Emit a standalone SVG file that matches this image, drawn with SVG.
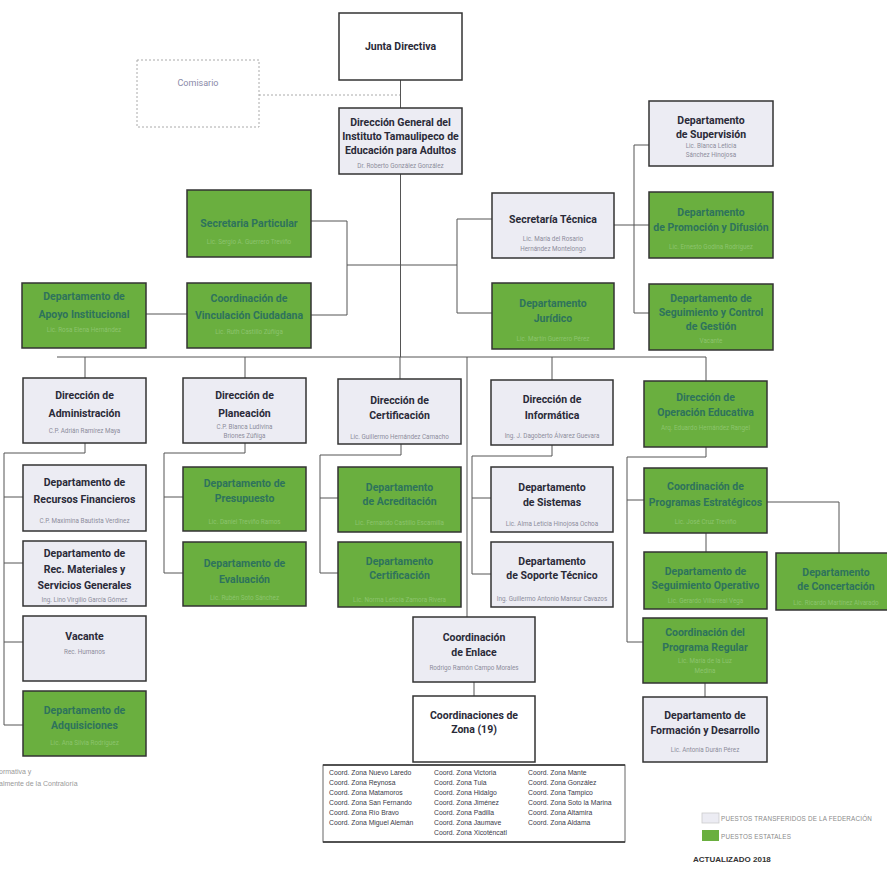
<svg xmlns="http://www.w3.org/2000/svg" width="887" height="873" viewBox="0 0 887 873">
<style>
.box{stroke:#333;stroke-width:1.5}
.lav{fill:#ececf3}
.grn{fill:#6aaf3f}
.wht{fill:#fff}
.t{font-family:Roboto,"Liberation Sans",sans-serif;font-weight:700;font-size:10.5px;text-anchor:middle}
.tl{fill:#2a2a38}
.tg{fill:#2e735c}
.s{font-family:Roboto,"Liberation Sans",sans-serif;font-size:6.3px;text-anchor:middle}
.sl{fill:#8c8c9c}
.sg{fill:#8cc46e}
.conn{fill:none;stroke:#555;stroke-width:1}
.z{font-family:"Liberation Sans",Arial,sans-serif;font-size:6.8px;fill:#3a3a48}
.lg{font-family:"Liberation Sans",Arial,sans-serif;font-size:6.3px;fill:#8a8a8a;letter-spacing:0.2px}
</style>
<rect width="887" height="873" fill="#fff"/>

<g id="connectors">
<path class="conn" d="M400.5,80 V357"/>
<path d="M259,95 H400" fill="none" stroke="#aaa" stroke-width="1" stroke-dasharray="2,2"/>
<path class="conn" d="M311,221 H347 V315 H311 M347,265 H457 M457,219 V313 M457,219 H492 M457,313 H492"/>
<path class="conn" d="M146,314 H187"/>
<path class="conn" d="M614,225 H649 M634,145 V313 M634,145 H649 M634,313 H649"/>
<path class="conn" d="M57,357 H706 M85,357 V378 M245,357 V378 M400,357 V379 M467,357 V617 M552,357 V380 M706,357 V381"/>
<path class="conn" d="M85,443 V453 H4 V725 M4,497 H23 M4,563 H23 M4,642 H23 M4,725 H23"/>
<path class="conn" d="M245,443 V453 H164 V573 M164,497 H183 M164,573 H183"/>
<path class="conn" d="M401,444 V455 H320 V573 M320,498 H338 M320,573 H338"/>
<path class="conn" d="M552,445 V456 H472 V574 M472,498 H491 M472,574 H491"/>
<path class="conn" d="M474,682 V696"/>
<path class="conn" d="M706,447 V457 H627 V642 M627,500 H644 M627,642 H643"/>
<path class="conn" d="M706,533 V552 M767,502 H839 V553"/>
<path class="conn" d="M705,683 V697"/>
</g>

<g id="junta"><rect class="box wht" x="339" y="13" width="123" height="67"/><text class="t tl" x="400.5" y="50">Junta Directiva</text></g>
<g id="comisario"><rect x="137" y="60" width="122" height="67" fill="#fff" stroke="#aaa" stroke-width="1" stroke-dasharray="2,2"/><text x="198" y="86" font-family="Roboto,'Liberation Sans',sans-serif" font-size="9px" fill="#8a8aa8" text-anchor="middle">Comisario</text></g>

<g id="dgeneral"><rect class="box lav" x="339" y="108" width="123" height="66"/>
<text class="t tl" x="400.5" y="126">Dirección General del</text>
<text class="t tl" x="400.5" y="140">Instituto Tamaulipeco de</text>
<text class="t tl" x="400.5" y="154">Educación para Adultos</text>
<text class="s sl" x="400.5" y="168">Dr. Roberto González González</text></g>

<g id="sparticular"><rect class="box grn" x="187" y="190" width="124" height="67"/>
<text class="t tg" x="249" y="227">Secretaria Particular</text>
<text class="s sg" x="249" y="244">Lic. Sergio A. Guerrero Treviño</text></g>

<g id="vinculacion"><rect class="box grn" x="187" y="283" width="124" height="65"/>
<text class="t tg" x="249" y="302">Coordinación de</text>
<text class="t tg" x="249" y="319">Vinculación Ciudadana</text>
<text class="s sg" x="249" y="334">Lic. Ruth Castillo Zúñiga</text></g>

<g id="stecnica"><rect class="box lav" x="492" y="193" width="122" height="65"/>
<text class="t tl" x="553" y="223">Secretaría Técnica</text>
<text class="s sl" x="553" y="241">Lic. María del Rosario</text>
<text class="s sl" x="553" y="251">Hernández Montelongo</text></g>

<g id="juridico"><rect class="box grn" x="492" y="283" width="122" height="66"/>
<text class="t tg" x="553" y="307">Departamento</text>
<text class="t tg" x="553" y="322">Jurídico</text>
<text class="s sg" x="553" y="341">Lic. Martín Guerrero Pérez</text></g>

<g id="supervision"><rect class="box lav" x="649" y="101" width="124" height="65"/>
<text class="t tl" x="711" y="124">Departamento</text>
<text class="t tl" x="711" y="138">de Supervisión</text>
<text class="s sl" x="711" y="148">Lic. Blanca Leticia</text>
<text class="s sl" x="711" y="157">Sánchez Hinojosa</text></g>

<g id="promocion"><rect class="box grn" x="649" y="192" width="124" height="66"/>
<text class="t tg" x="711" y="216">Departamento</text>
<text class="t tg" x="711" y="231">de Promoción y Difusión</text>
<text class="s sg" x="711" y="249">Lic. Ernesto Godina Rodríguez</text></g>

<g id="segcontrol"><rect class="box grn" x="649" y="284" width="124" height="66"/>
<text class="t tg" x="711" y="302">Departamento de</text>
<text class="t tg" x="711" y="316">Seguimiento y Control</text>
<text class="t tg" x="711" y="330">de Gestión</text>
<text class="s sg" x="711" y="343">Vacante</text></g>

<g id="apoyo"><rect class="box grn" x="22" y="283" width="124" height="65"/>
<text class="t tg" x="84" y="300">Departamento de</text>
<text class="t tg" x="84" y="318">Apoyo Institucional</text>
<text class="s sg" x="84" y="332">Lic. Rosa Elena Hernández</text></g>

<g id="administracion"><rect class="box lav" x="23" y="378" width="123" height="65"/>
<text class="t tl" x="84.5" y="399">Dirección de</text>
<text class="t tl" x="84.5" y="417">Administración</text>
<text class="s sl" x="84.5" y="433">C.P. Adrián Ramírez Maya</text></g>

<g id="planeacion"><rect class="box lav" x="183" y="378" width="123" height="65"/>
<text class="t tl" x="244.5" y="399">Dirección de</text>
<text class="t tl" x="244.5" y="417">Planeación</text>
<text class="s sl" x="244.5" y="429">C.P. Blanca Ludivina</text>
<text class="s sl" x="244.5" y="438">Briones Zúñiga</text></g>

<g id="certificacion"><rect class="box lav" x="338" y="379" width="123" height="65"/>
<text class="t tl" x="399.5" y="404">Dirección de</text>
<text class="t tl" x="399.5" y="419">Certificación</text>
<text class="s sl" x="399.5" y="439">Lic. Guillermo Hernández Camacho</text></g>

<g id="informatica"><rect class="box lav" x="491" y="380" width="122" height="65"/>
<text class="t tl" x="552" y="403">Dirección de</text>
<text class="t tl" x="552" y="419">Informática</text>
<text class="s sl" x="552" y="438">Ing. J. Dagoberto Álvarez Guevara</text></g>

<g id="opeducativa"><rect class="box grn" x="644" y="381" width="123" height="66"/>
<text class="t tg" x="705.5" y="401">Dirección de</text>
<text class="t tg" x="705.5" y="416">Operación Educativa</text>
<text class="s sg" x="705.5" y="430">Arq. Eduardo Hernández Rangel</text></g>

<g id="recfin"><rect class="box lav" x="23" y="465" width="123" height="66"/>
<text class="t tl" x="84.5" y="486">Departamento de</text>
<text class="t tl" x="84.5" y="503">Recursos Financieros</text>
<text class="s sl" x="84.5" y="523">C.P. Maximina Bautista Verdinez</text></g>

<g id="recmat"><rect class="box lav" x="23" y="541" width="123" height="65"/>
<text class="t tl" x="84.5" y="557">Departamento de</text>
<text class="t tl" x="84.5" y="573">Rec. Materiales y</text>
<text class="t tl" x="84.5" y="589">Servicios Generales</text>
<text class="s sl" x="84.5" y="602">Ing. Lino Virgilio García Gómez</text></g>

<g id="vacante"><rect class="box lav" x="23" y="616" width="123" height="65"/>
<text class="t tl" x="84.5" y="640">Vacante</text>
<text class="s sl" x="84.5" y="654">Rec. Humanos</text></g>

<g id="adquisiciones"><rect class="box grn" x="23" y="691" width="123" height="65"/>
<text class="t tg" x="84.5" y="714">Departamento de</text>
<text class="t tg" x="84.5" y="729">Adquisiciones</text>
<text class="s sg" x="84.5" y="745">Lic. Ana Silvia Rodríguez</text></g>

<g id="presupuesto"><rect class="box grn" x="183" y="467" width="123" height="64"/>
<text class="t tg" x="244.5" y="487">Departamento de</text>
<text class="t tg" x="244.5" y="502">Presupuesto</text>
<text class="s sg" x="244.5" y="524">Lic. Daniel Treviño Ramos</text></g>

<g id="evaluacion"><rect class="box grn" x="183" y="542" width="123" height="64"/>
<text class="t tg" x="244.5" y="567">Departamento de</text>
<text class="t tg" x="244.5" y="583">Evaluación</text>
<text class="s sg" x="244.5" y="600">Lic. Rubén Soto Sánchez</text></g>

<g id="acreditacion"><rect class="box grn" x="338" y="467" width="123" height="65"/>
<text class="t tg" x="399.5" y="491">Departamento</text>
<text class="t tg" x="399.5" y="505">de Acreditación</text>
<text class="s sg" x="399.5" y="525">Lic. Fernando Castillo Escamilla</text></g>

<g id="dcertificacion"><rect class="box grn" x="338" y="542" width="123" height="65"/>
<text class="t tg" x="399.5" y="565">Departamento</text>
<text class="t tg" x="399.5" y="579">Certificación</text>
<text class="s sg" x="399.5" y="602">Lic. Norma Leticia Zamora Rivera</text></g>

<g id="sistemas"><rect class="box lav" x="491" y="467" width="122" height="65"/>
<text class="t tl" x="552" y="491">Departamento</text>
<text class="t tl" x="552" y="506">de Sistemas</text>
<text class="s sl" x="552" y="526">Lic. Alma Leticia Hinojosa Ochoa</text></g>

<g id="soporte"><rect class="box lav" x="491" y="542" width="122" height="65"/>
<text class="t tl" x="552" y="565">Departamento</text>
<text class="t tl" x="552" y="579">de Soporte Técnico</text>
<text class="s sl" x="552" y="601">Ing. Guillermo Antonio Mansur Cavazos</text></g>

<g id="progestrat"><rect class="box grn" x="644" y="468" width="123" height="65"/>
<text class="t tg" x="705.5" y="490">Coordinación de</text>
<text class="t tg" x="705.5" y="506">Programas Estratégicos</text>
<text class="s sg" x="705.5" y="524">Lic. José Cruz Treviño</text></g>

<g id="segoperativo"><rect class="box grn" x="644" y="552" width="123" height="57"/>
<text class="t tg" x="705.5" y="575">Departamento de</text>
<text class="t tg" x="705.5" y="589">Seguimiento Operativo</text>
<text class="s sg" x="705.5" y="603">Lic. Gerardo Villarreal Vega</text></g>

<g id="concertacion"><rect class="box grn" x="776" y="553" width="124" height="57"/>
<text class="t tg" x="836" y="576">Departamento</text>
<text class="t tg" x="836" y="590">de Concertación</text>
<text class="s sg" x="836" y="605">Lic. Ricardo Martínez Alvarado</text></g>

<g id="progregular"><rect class="box grn" x="643" y="618" width="124" height="65"/>
<text class="t tg" x="705" y="636">Coordinación del</text>
<text class="t tg" x="705" y="651">Programa Regular</text>
<text class="s sg" x="705" y="663">Lic. María de la Luz</text>
<text class="s sg" x="705" y="673">Medina</text></g>

<g id="formacion"><rect class="box lav" x="643" y="697" width="124" height="65"/>
<text class="t tl" x="705" y="719">Departamento de</text>
<text class="t tl" x="705" y="734">Formación y Desarrollo</text>
<text class="s sl" x="705" y="752">Lic. Antonia Durán Pérez</text></g>

<g id="enlace"><rect class="box lav" x="413" y="617" width="122" height="65"/>
<text class="t tl" x="474" y="641">Coordinación</text>
<text class="t tl" x="474" y="656">de Enlace</text>
<text class="s sl" x="474" y="670">Rodrigo Ramón Campo Morales</text></g>

<g id="zonas"><rect class="box wht" x="413" y="696" width="122" height="66"/>
<text class="t tl" x="474" y="719">Coordinaciones de</text>
<text class="t tl" x="474" y="733">Zona (19)</text></g>

<g id="zonelist"><rect x="323" y="765" width="302" height="77" fill="#fff" stroke="#666" stroke-width="1"/>
<path d="M323,765 H625 M323,842 H625" stroke="#333" stroke-width="1.5"/>
<text class="z" x="329" y="775">Coord. Zona Nuevo Laredo</text>
<text class="z" x="329" y="785">Coord. Zona Reynosa</text>
<text class="z" x="329" y="795">Coord. Zona Matamoros</text>
<text class="z" x="329" y="805">Coord. Zona San Fernando</text>
<text class="z" x="329" y="815">Coord. Zona Río Bravo</text>
<text class="z" x="329" y="825">Coord. Zona Miguel Alemán</text>
<text class="z" x="434" y="775">Coord. Zona Victoria</text>
<text class="z" x="434" y="785">Coord. Zona Tula</text>
<text class="z" x="434" y="795">Coord. Zona Hidalgo</text>
<text class="z" x="434" y="805">Coord. Zona Jiménez</text>
<text class="z" x="434" y="815">Coord. Zona Padilla</text>
<text class="z" x="434" y="825">Coord. Zona Jaumave</text>
<text class="z" x="434" y="835">Coord. Zona Xicoténcatl</text>
<text class="z" x="528" y="775">Coord. Zona Mante</text>
<text class="z" x="528" y="785">Coord. Zona González</text>
<text class="z" x="528" y="795">Coord. Zona Tampico</text>
<text class="z" x="528" y="805">Coord. Zona Soto la Marina</text>
<text class="z" x="528" y="815">Coord. Zona Altamira</text>
<text class="z" x="528" y="825">Coord. Zona Aldama</text>
</g>

<g id="notes">
<text x="-1" y="774" font-family="'Liberation Sans',Arial,sans-serif" font-size="7px" fill="#999">ormativa y</text>
<text x="-1" y="786" font-family="'Liberation Sans',Arial,sans-serif" font-size="7px" fill="#999">almente de la Contraloría</text>
</g>

<g id="legend">
<rect x="702" y="813" width="17" height="10" fill="#ececf3" stroke="#ccc" stroke-width="0.8"/>
<text class="lg" x="721" y="821">PUESTOS TRANSFERIDOS DE LA FEDERACIÓN</text>
<rect x="702" y="830" width="17" height="11" fill="#6aaf3f"/>
<text class="lg" x="721" y="839">PUESTOS ESTATALES</text>
<text x="693" y="862" font-family="'Liberation Sans',Arial,sans-serif" font-weight="700" font-size="8px" fill="#333">ACTUALIZADO 2018</text>
</g>
</svg>
